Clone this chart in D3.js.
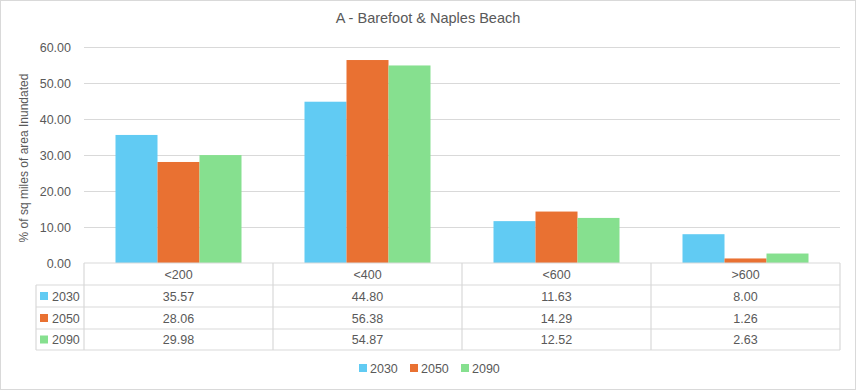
<!DOCTYPE html>
<html><head><meta charset="utf-8">
<script src="https://cdn.jsdelivr.net/npm/d3@7"></script>
<style>body{margin:0;background:#fff}svg{display:block;font-family:"Liberation Sans",Arial,sans-serif}</style>
</head><body><svg id="c" width="856" height="390"></svg>
<script>
const categories = ["<200", "<400", "<600", ">600"];
const seriesNames = ["2030", "2050", "2090"];
const values2030 = [35.57, 44.80, 11.63, 8.00];
const values2050 = [28.06, 56.38, 14.29, 1.26];
const values2090 = [29.98, 54.87, 12.52, 2.63];
const yTicks = [0, 10, 20, 30, 40, 50, 60];
const colors = ["#61CBF3", "#E97132", "#86E08F"];
const title = "A - Barefoot & Naples Beach";
const yLabel = "% of sq miles of area Inundated";

(function(){
const series = [values2030, values2050, values2090];
const svg = d3.select("#c");
const W = 856, H = 390;
const pLeft = 84, pRight = 840, pTop = 47, pBottom = 263;
const textCol = "#595959", gridCol = "#d9d9d9";

svg.append("rect").attr("x",0.5).attr("y",0.5).attr("width",W-1).attr("height",H-1)
  .attr("fill","#fff").attr("stroke","#d9d9d9");

svg.append("text").attr("x",428).attr("y",23).attr("text-anchor","middle")
  .attr("font-size",14.5).attr("fill",textCol).text(title);

const y = d3.scaleLinear().domain([0,60]).range([pBottom, pTop]);
const x0 = d3.scaleBand().domain(categories).range([pLeft, pRight]).paddingInner(0).paddingOuter(0);
const x1 = d3.scaleBand().domain(seriesNames).range([0, x0.bandwidth()]).paddingOuter(0.75).paddingInner(0);

svg.append("g").selectAll("line").data(yTicks.filter(t=>t>0)).join("line")
  .attr("x1",pLeft).attr("x2",pRight).attr("y1",d=>y(d)+0.5).attr("y2",d=>y(d)+0.5)
  .attr("stroke",gridCol).attr("stroke-width",1);

const yAxis = d3.axisLeft(y).tickValues(yTicks).tickFormat(d3.format(".2f")).tickSize(0).tickPadding(13);
const ya = svg.append("g").attr("transform",`translate(${pLeft},0)`).call(yAxis);
ya.select(".domain").remove();
ya.selectAll("text").attr("font-size",12.5).attr("fill",textCol).attr("font-family","Liberation Sans, Arial, sans-serif");

svg.append("text").attr("transform",`translate(28,${(pTop+pBottom)/2+3}) rotate(-90)`)
  .attr("text-anchor","middle").attr("font-size",12).attr("fill",textCol).text(yLabel);

const g = svg.append("g");
categories.forEach((c,i)=>{
  series.forEach((s,j)=>{
    g.append("rect").attr("x",x0(c)+x1(seriesNames[j])).attr("width",x1.bandwidth())
      .attr("y",y(s[i])).attr("height",y(0)-y(s[i])).attr("fill",colors[j]);
  });
});

const rowY = [263, 285, 307, 329, 350];
const tableLeft = 36;
const tg = svg.append("g").attr("stroke",gridCol).attr("stroke-width",1.2).attr("fill","none");
tg.append("line").attr("x1",pLeft).attr("x2",pRight).attr("y1",rowY[0]).attr("y2",rowY[0]);
rowY.slice(1).forEach(yy=>tg.append("line").attr("x1",tableLeft).attr("x2",pRight).attr("y1",yy).attr("y2",yy));
tg.append("line").attr("x1",tableLeft).attr("x2",tableLeft).attr("y1",rowY[1]).attr("y2",rowY[4]);
categories.forEach(c=>tg.append("line").attr("x1",x0(c)).attr("x2",x0(c)).attr("y1",rowY[0]).attr("y2",rowY[4]));
tg.append("line").attr("x1",pRight).attr("x2",pRight).attr("y1",rowY[0]).attr("y2",rowY[4]);

const ttxt = svg.append("g").attr("font-size",12.5).attr("fill",textCol).attr("text-anchor","middle");
categories.forEach((c,i)=>{
  const cx = x0(c)+x0.bandwidth()/2;
  ttxt.append("text").attr("x",cx).attr("y",(rowY[0]+rowY[1])/2+4.5).text(c);
  series.forEach((s,j)=>{
    ttxt.append("text").attr("x",cx).attr("y",(rowY[j+1]+rowY[j+2])/2+4.5).text(d3.format(".2f")(s[i]));
  });
});
seriesNames.forEach((n,j)=>{
  const cy = (rowY[j+1]+rowY[j+2])/2;
  svg.append("rect").attr("x",40).attr("y",cy-4).attr("width",8).attr("height",8).attr("fill",colors[j]);
  svg.append("text").attr("x",52).attr("y",cy+4.5).attr("font-size",12.5).attr("fill",textCol).text(n);
});

const lg = svg.append("g");
const lx = [359, 410, 461];
seriesNames.forEach((n,j)=>{
  lg.append("rect").attr("x",lx[j]).attr("y",364).attr("width",8).attr("height",8).attr("fill",colors[j]);
  lg.append("text").attr("x",lx[j]+11).attr("y",372.5).attr("font-size",12.5).attr("fill",textCol).text(n);
});
})();
</script></body></html>
